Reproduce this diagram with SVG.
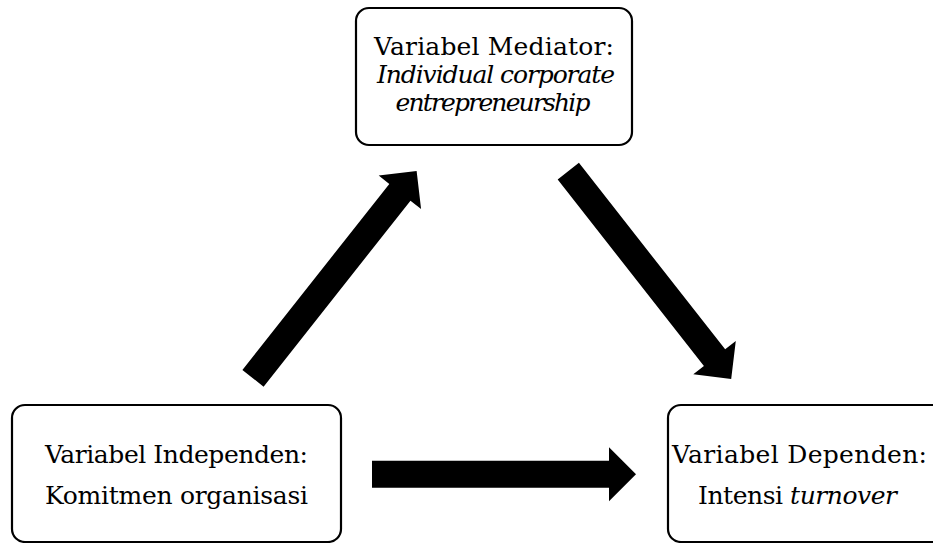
<svg xmlns="http://www.w3.org/2000/svg" xmlns:xlink="http://www.w3.org/1999/xlink" width="933" height="543" viewBox="0 0 933 543">
  <style>
    .box { fill: #ffffff; stroke: #000000; stroke-width: 2.2; }
    .lbl { font-family: "DejaVu Serif", "Liberation Serif", serif; font-size: 25px; fill: #000000; text-anchor: middle; }
    .it { font-style: italic; }
    .arrow { fill: #000000; stroke: none; }
  </style>
  <defs>
    <path id="blockArrow" class="arrow" d="M0,-13.5 H237 V-27 L264,0 L237,27 V13.5 H0 Z"/>
  </defs>
  <rect width="933" height="543" fill="#ffffff"/>

  <g id="connectors">
    <use xlink:href="#blockArrow" href="#blockArrow" transform="translate(253,378.3) rotate(-51.7)"/>
    <use xlink:href="#blockArrow" href="#blockArrow" transform="translate(568.3,171.2) rotate(51.9)"/>
    <use xlink:href="#blockArrow" href="#blockArrow" transform="translate(372,474.2)"/>
  </g>

  <g id="node-mediator">
    <rect class="box" x="356" y="8" width="276" height="137" rx="13" ry="13"/>
    <text class="lbl" x="494" y="55" textLength="240" lengthAdjust="spacing">Variabel Mediator:</text>
    <text class="lbl it" x="496" y="83" textLength="238" lengthAdjust="spacing">Individual corporate</text>
    <text class="lbl it" x="493" y="111" textLength="195" lengthAdjust="spacing">entrepreneurship</text>
  </g>

  <g id="node-independen">
    <rect class="box" x="12" y="405" width="329" height="137" rx="13" ry="13"/>
    <text class="lbl" x="176.5" y="463" textLength="263" lengthAdjust="spacing">Variabel Independen:</text>
    <text class="lbl" x="176.5" y="504" textLength="263" lengthAdjust="spacing">Komitmen organisasi</text>
  </g>

  <g id="node-dependen">
    <rect class="box" x="668" y="405" width="329" height="137" rx="13" ry="13"/>
    <text class="lbl" x="799.5" y="463" textLength="255" lengthAdjust="spacing">Variabel Dependen:</text>
    <text class="lbl" x="797.5" y="504" textLength="199" lengthAdjust="spacing">Intensi <tspan class="it">turnover</tspan></text>
  </g>
</svg>
